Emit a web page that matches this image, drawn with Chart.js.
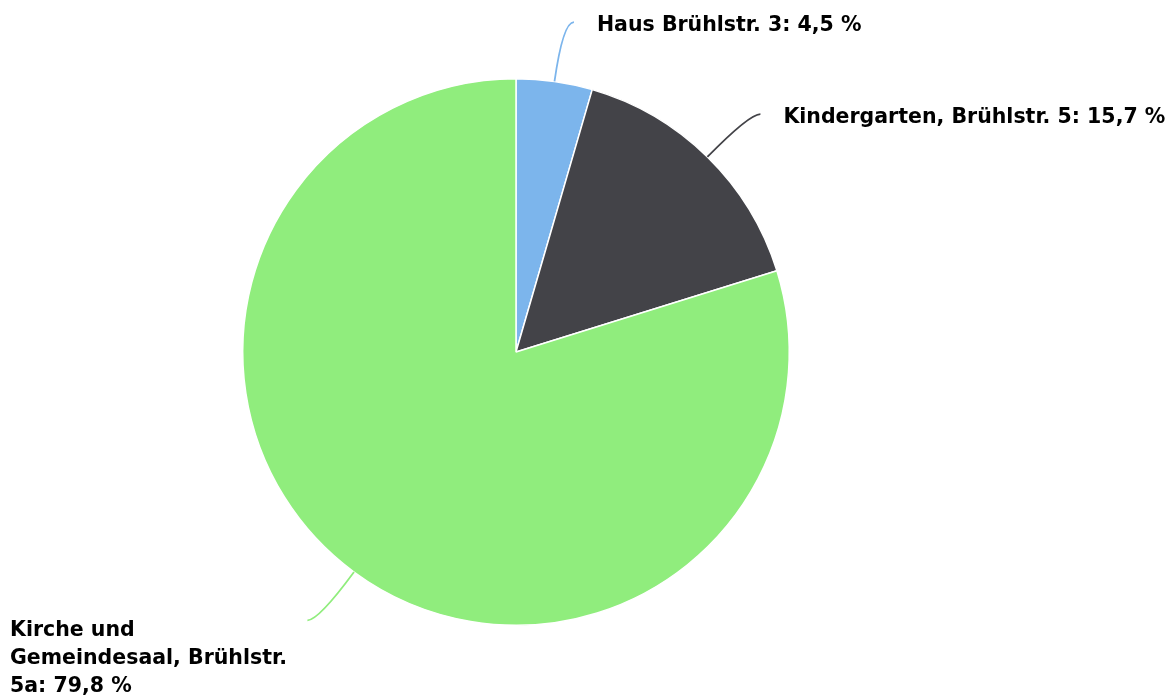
<!DOCTYPE html>
<html>
<head>
<meta charset="utf-8">
<script src="https://cdn.jsdelivr.net/npm/chart.js@4"></script>
<style>
html,body{margin:0;padding:0;background:#fff;}
#wrap{width:1172px;height:698px;position:relative;}
</style>
</head>
<body>
<div id="wrap"><canvas id="c" width="1172" height="698"></canvas></div>
<script>
const categories = ["Haus Brühlstr. 3", "Kindergarten, Brühlstr. 5", "Kirche und Gemeindesaal, Brühlstr. 5a"];
const shares = [4.5, 15.7, 79.8];
const colors = ["#7cb5ec", "#434348", "#90ed7d"];

const labelFont = 'bold 20.5px "DejaVu Sans"';

function wrapText(ctx, text, maxW) {
  const words = text.split(" ");
  const lines = [];
  let cur = "";
  for (const w of words) {
    const t = cur ? cur + " " + w : w;
    if (ctx.measureText(t).width > maxW && cur) { lines.push(cur); cur = w; }
    else cur = t;
  }
  if (cur) lines.push(cur);
  return lines;
}

const pieLabels = {
  id: "pieLabels",
  afterDatasetsDraw(chart) {
    const ctx = chart.ctx;
    const meta = chart.getDatasetMeta(0);
    ctx.save();
    ctx.font = labelFont;
    ctx.textBaseline = "middle";
    meta.data.forEach((arc, i) => {
      const p = arc.getProps(["x", "y", "startAngle", "endAngle", "outerRadius"], true);
      const a = (p.startAngle + p.endAngle) / 2;
      const R = p.outerRadius;
      const cos = Math.cos(a), sin = Math.sin(a);
      const right = cos >= 0;
      const ex = p.x + R * cos, ey = p.y + R * sin;
      const bx = p.x + (R + 60) * cos, by = p.y + (R + 60) * sin;
      const tx = bx + (right ? 11 : -11), ty = by;
      ctx.strokeStyle = colors[i];
      ctx.lineWidth = 1.8;
      ctx.beginPath();
      ctx.moveTo(ex, ey);
      ctx.quadraticCurveTo(bx, by, tx, ty);
      ctx.stroke();
      ctx.fillStyle = "#000000";
      const text = categories[i] + ": " + shares[i].toFixed(1).replace(".", ",") + " %";
      if (right) {
        ctx.textAlign = "left";
        ctx.fillText(text, tx + 23, ty + 4);
      } else {
        ctx.textAlign = "left";
        const lines = wrapText(ctx, text, 290);
        lines.forEach((ln, k) => ctx.fillText(ln, 10, ty + 10 + k * 28));
      }
    });
    ctx.restore();
  }
};

new Chart(document.getElementById("c"), {
  type: "pie",
  data: {
    labels: categories,
    datasets: [{
      data: shares,
      backgroundColor: colors,
      borderColor: "#ffffff",
      borderWidth: 1.5,
      hoverOffset: 0
    }]
  },
  options: {
    responsive: false,
    animation: false,
    layout: { padding: { top: 78, bottom: 72, left: 242, right: 382 } },
    plugins: { legend: { display: false }, tooltip: { enabled: false } }
  },
  plugins: [pieLabels]
});
</script>
</body>
</html>
